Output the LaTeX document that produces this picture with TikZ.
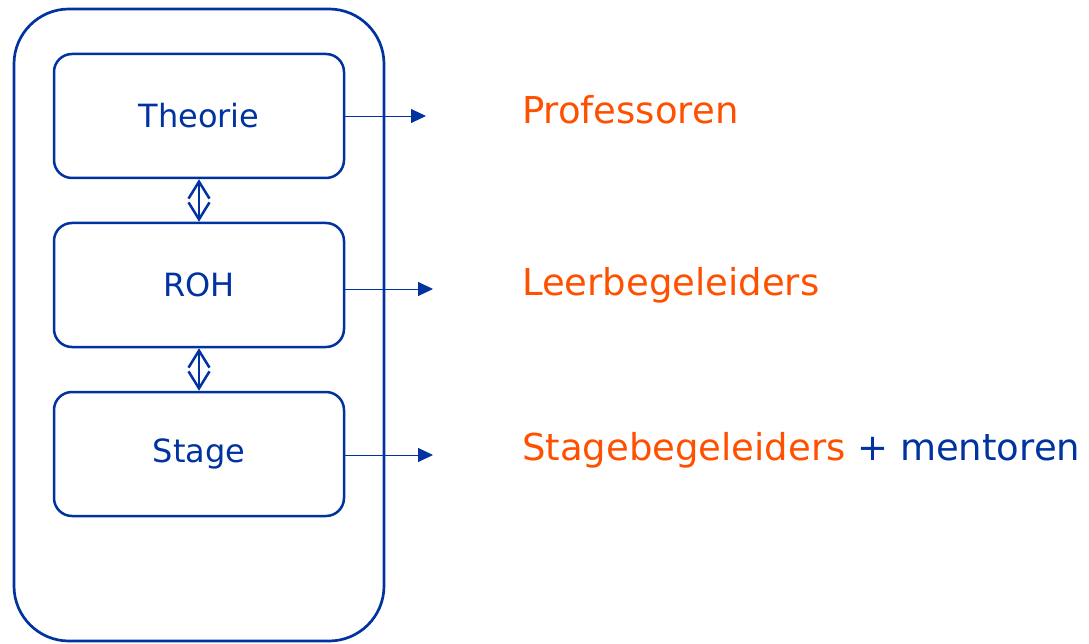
\documentclass[tikz,border=0pt]{standalone}
\usepackage{fontspec}
\setmainfont{DejaVu Sans}
\usetikzlibrary{arrows.meta}
\definecolor{kulblue}{RGB}{0,51,160}
\definecolor{kulorange}{RGB}{255,80,0}
\tikzstyle{frame}=[draw=kulblue,line width=2.7pt,rounded corners=55pt,minimum width=370pt,minimum height=632pt]
\tikzstyle{block}=[draw=kulblue,line width=2.5pt,rounded corners=18pt,minimum width=290pt,minimum height=124pt,text=kulblue,font=\fontsize{32}{38}\selectfont]
\tikzstyle{link}=[draw=kulblue,line width=0.9pt,-{Triangle[length=15pt,width=14pt]}]
\tikzstyle{both}=[draw=kulblue,line width=2.5pt,{Straight Barb[length=17pt,width=21pt]}-{Straight Barb[length=17pt,width=21pt]}]
\tikzstyle{role}=[anchor=west,inner sep=0pt,text=kulorange,font=\fontsize{37}{44}\selectfont]

\begin{document}
\begin{tikzpicture}[x=1pt,y=-1pt]
				\useasboundingbox (0,0) rectangle (1089,644);
				% the outer frame with the three blocks
				\node[frame] (frame) at (199,325) {};
				\foreach \pos/\name/\txt in {{(199,116)/theorie/Theorie}, {(199,285)/roh/ROH}, {(199,454)/stage/Stage}}
				\node[block] (\name) at \pos {\txt};

				% double arrows between the blocks
				\path[both] (theorie) -- (roh);
				\path[both] (roh) -- (stage);

				% the roles on the right
				\node[role] (prof) at (522,110) {Professoren};
				\node[role] (leer) at (522,285) {Leerbegeleiders};
				\node[role,text=kulblue] (stbg) at (522,450) {{\color{kulorange}Stagebegeleiders} + mentoren};

				\coordinate (tp) at (426,116);
				\coordinate (tr) at (433,289);
				\coordinate (ts) at (433,455);
				\foreach \source/\dest in {theorie/tp, roh/tr, stage/ts}
				\path[link] (\source.east |- \dest) -- (\dest);
\end{tikzpicture}
\end{document}
